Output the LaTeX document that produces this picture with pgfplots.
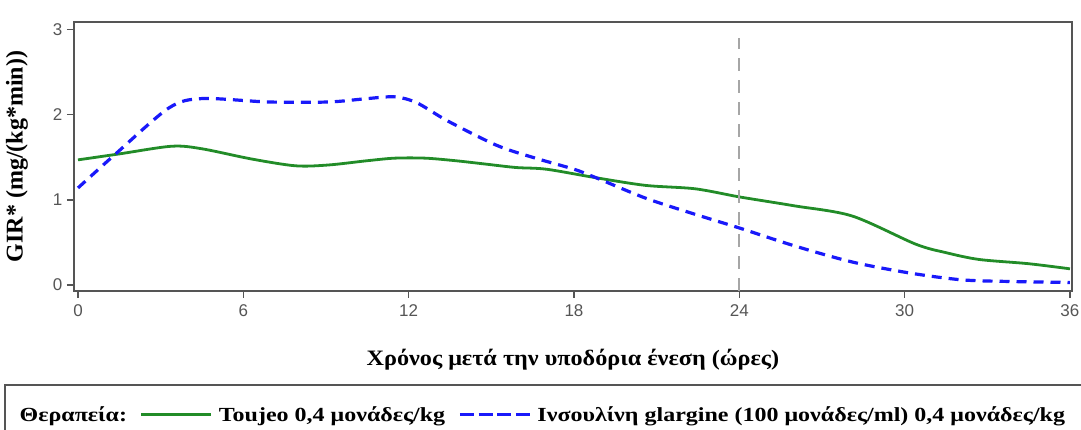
\documentclass[border=0pt]{standalone}
\usepackage{fontspec}
\setmainfont{Liberation Serif}
\newfontfamily\sansf{Liberation Sans}
\newfontfamily\legf[FakeStretch=1.2]{Liberation Serif}
\newfontfamily\xlabf[FakeStretch=1.1]{Liberation Serif}
\usepackage{pgfplots}
\pgfplotsset{compat=1.18}

\definecolor{girgreen}{RGB}{34,140,40}
\definecolor{girblue}{RGB}{25,25,250}
\definecolor{axgray}{RGB}{85,85,85}

\begin{document}
\begin{tikzpicture}
\useasboundingbox (0pt,0pt) rectangle (1081pt,430pt);
\begin{axis}[
    at={(78pt,145pt)}, anchor=origin,
    scale only axis,
    width=998pt, height=269pt,
    xmin=-0.15, xmax=36.07,
    ymin=-0.07, ymax=3.09,
    xtick={0,6,...,36}, ytick={0,1,2,3},
    xtick pos=bottom, ytick pos=left,
    tick align=outside,
    major tick length=7pt,
    axis line style={axgray, line width=1.6pt},
    every tick/.style={axgray, line width=1.4pt},
    /pgf/number format/assume math mode=true,
    tick label style={font=\sansf\fontsize{17}{17}\selectfont, text=axgray},
    xticklabel style={yshift=-3pt},
    yticklabel style={xshift=-1pt},
    xlabel={\xlabf\bfseries\fontsize{22}{22}\selectfont Χρόνος μετά την υποδόρια ένεση (ώρες)},
    ylabel={\bfseries\fontsize{24}{24}\selectfont GIR* (mg/(kg*min))},
    xlabel style={at={(axis description cs:0.5,-0.255)}, anchor=center},
    ylabel style={at={(axis description cs:-0.057,0.5)}, anchor=center},
    legend columns=-1,
    legend style={at={(axis description cs:-0.0605,-0.46)}, anchor=west,
        draw=none, fill=none, inner sep=0pt,
        font=\legf\bfseries\fontsize{20}{20}\selectfont,
        /tikz/every odd column/.append style={column sep=4pt},
        /tikz/every even column/.append style={column sep=11pt}},
    legend image code/.code={\draw[#1] (0pt,0pt) -- (70pt,0pt);},
]
\addlegendimage{empty legend}
\addlegendentry{Θεραπεία:}
\addplot[girgreen, line width=2.8pt, smooth, tension=0.5] coordinates {
(0,1.47) (1.5,1.54) (3.4,1.63) (4.5,1.60) (6.3,1.48) (7.9,1.40) (9.1,1.41)
(10.5,1.46) (11.5,1.49) (12.6,1.49) (13.7,1.46) (14.8,1.42) (15.9,1.38)
(17,1.36) (18.8,1.26) (20.6,1.17) (22.4,1.13) (24,1.035) (26,0.93)
(28.1,0.81) (30.4,0.48) (31.5,0.38) (32.7,0.30) (34.5,0.25) (36,0.19)};
\addlegendentry{Toujeo 0,4 μονάδες/kg}
\addplot[girblue, line width=3.2pt, dash pattern=on 10pt off 7pt, smooth, tension=0.5,
    legend image code/.code={\draw[girblue, line width=3.2pt, dash pattern=on 14pt off 4.7pt] (0pt,0pt) -- (70pt,0pt);}] coordinates {
(0,1.14) (1.4,1.55) (3.3,2.08) (4.5,2.19) (6.9,2.15) (9.1,2.15) (10.5,2.19)
(11.5,2.21) (12.3,2.14) (13.4,1.93) (15.2,1.64) (16.6,1.49) (18,1.36)
(18.8,1.26) (20.6,1.02) (22.4,0.83) (24,0.67) (26,0.46) (28.1,0.27)
(30.2,0.14) (32.1,0.06) (34,0.04) (36,0.03)};
\addlegendentry{Ινσουλίνη glargine (100 μονάδες/ml) 0,4 μονάδες/kg}
\addplot[gray!70, line width=1.8pt, dash pattern=on 13pt off 9pt, forget plot] coordinates {(24,-0.07) (24,2.9)};
\end{axis}
\draw[axgray, line width=1.5pt] (5pt,-10pt) rectangle (1100pt,45pt);
\end{tikzpicture}
\end{document}
